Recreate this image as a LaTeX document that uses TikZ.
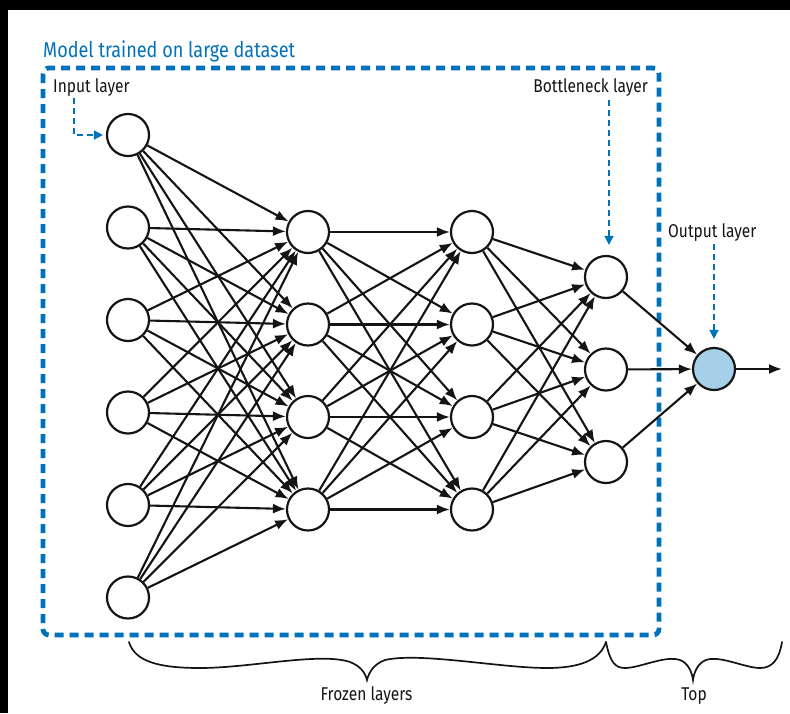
\documentclass[tikz,border=0pt]{standalone}
\usepackage{fontspec}
\setmainfont{Fira Sans}[FakeStretch=0.84]
\usetikzlibrary{arrows.meta}
\definecolor{frameblue}{RGB}{0,114,188}
\definecolor{outfill}{RGB}{166,208,234}
\definecolor{ink}{RGB}{20,20,20}
\begin{document}
\begin{tikzpicture}[x=1pt,y=-1pt,
  neuron/.style={circle,draw=ink,line width=2.2pt,fill=white,minimum size=42pt,inner sep=0pt},
  outneuron/.style={neuron,fill=outfill},
  edge/.style={draw=ink,line width=2.1pt,-{Latex[length=13pt,width=10pt]}},
  lbl/.style={draw=frameblue,line width=1.6pt,dash pattern=on 6pt off 4pt,-{Triangle[length=9pt,width=9pt]}},
  labeltext/.style={font=\fontsize{18.5}{22}\selectfont,text=ink,inner sep=0pt},
  brace/.style={draw=ink,line width=1.7pt,line cap=round}]
\useasboundingbox (0,0) rectangle (790,713);
\fill[black] (0,0) rectangle (790,713);
\fill[white] (8,10) rectangle (790,713);

% frame
\draw[frameblue,line width=4.8pt,dash pattern=on 9pt off 6pt,rounded corners=6pt] (43,68) rectangle (659,635);
\node[anchor=base west,inner sep=0pt,text=frameblue,font=\fontsize{21.5}{24}\selectfont] (title) at (43,57) {Model trained on large dataset};

% neurons
\foreach \i/\y in {1/135,2/227.5,3/320,4/412.5,5/505,6/597.5}
  \node[neuron] (a\i) at (128,\y) {};
\foreach \i/\y in {1/232,2/324.5,3/417,4/509.5}
  \node[neuron] (b\i) at (308,\y) {};
\foreach \i/\y in {1/232,2/324.5,3/417,4/509.5}
  \node[neuron] (c\i) at (472,\y) {};
\foreach \i/\y in {1/277,2/369.5,3/462}
  \node[neuron] (d\i) at (606,\y) {};
\node[outneuron] (o) at (714,369) {};

% connections
\foreach \i in {1,...,6}
  \foreach \j in {1,...,4}
    \draw[edge] (a\i) -- (b\j);
\foreach \i in {1,...,4}
  \foreach \j in {1,...,4}
    \draw[edge] (b\i) -- (c\j);
\foreach \i in {1,...,4}
  \foreach \j in {1,...,3}
    \draw[edge] (c\i) -- (d\j);
\foreach \i in {1,...,3}
  \draw[edge] (d\i) -- (o);
\coordinate (oend) at (782,369);
\draw[edge] (o) -- (oend);

% labels
\node[labeltext,anchor=base west] (inlbl) at (53,92) {Input layer};
\node[labeltext,anchor=base east] (bnlbl) at (648,92) {Bottleneck layer};
\node[labeltext,anchor=base west] (outlbl) at (668,237) {Output layer};
\coordinate (inA) at (74,98);
\coordinate (bnA) at (609,100);
\coordinate (outA) at (714,244);
\draw[lbl,shorten >=3pt] (inA) |- (a1);
\draw[lbl,shorten >=10pt] (bnA) -- (bnA |- d1.north);
\draw[lbl,shorten >=8pt] (outA) -- (o);

% braces
\draw[brace] (129,642) .. controls (135,662) and (160,668) .. (200,668)
  .. controls (250,668) and (320,652) .. (350,662)
  .. controls (360,666) and (365,672) .. (367,680)
  .. controls (369,672) and (374,664) .. (385,660)
  .. controls (420,652) and (500,668) .. (547,668)
  .. controls (580,668) and (600,660) .. (606,642);
\draw[brace] (606,642) .. controls (610,662) and (615,668) .. (625,668)
  .. controls (640,668) and (665,655) .. (680,660)
  .. controls (688,663) and (692,672) .. (693,680)
  .. controls (694,672) and (698,663) .. (706,660)
  .. controls (720,655) and (745,668) .. (760,668)
  .. controls (772,668) and (779,660) .. (782,642);
\node[labeltext,anchor=base] (frozen) at (366.5,700) {Frozen layers};
\node[labeltext,anchor=base] (top) at (694,700) {Top};
\end{tikzpicture}
\end{document}
